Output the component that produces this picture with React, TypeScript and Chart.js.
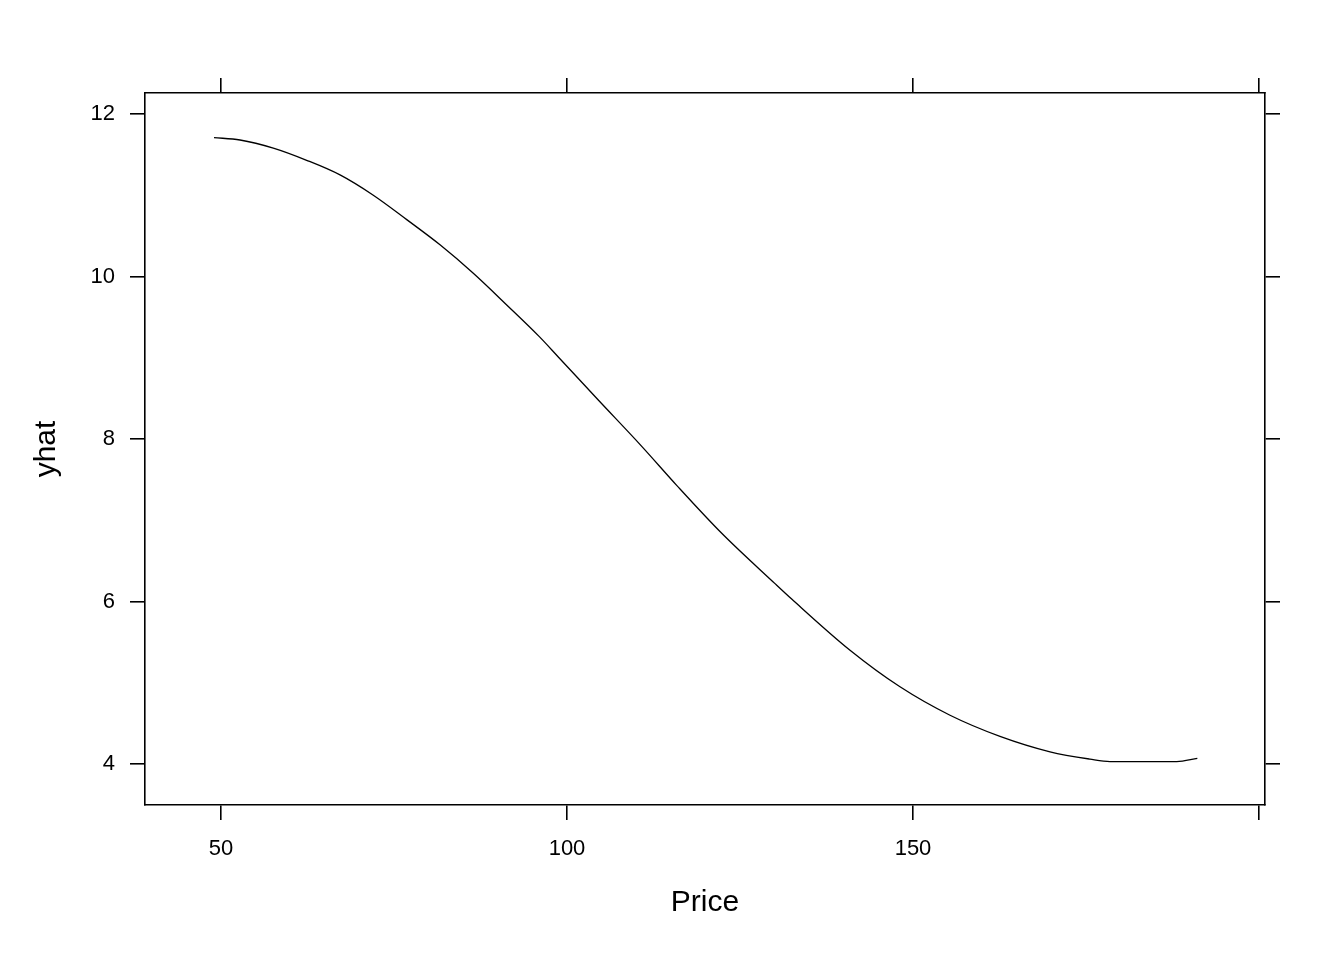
import React, { useEffect, useRef } from "react";
import { Chart, registerables } from "chart.js";

Chart.register(...registerables);

const price = [48.99, 52.75, 57.56, 62.38, 67.2, 72.01, 76.84, 81.65, 86.46, 91.29, 96.0, 98.74, 104.52, 110.8, 115.85, 122.36, 130.06, 132.47, 140.9, 148.12, 155.35, 162.57, 169.8, 175.58, 178.47, 183.3, 188.11, 191.09];
const yhat = [11.71, 11.68, 11.58, 11.43, 11.25, 11.0, 10.7, 10.39, 10.04, 9.65, 9.26, 9.01, 8.48, 7.91, 7.43, 6.84, 6.22, 6.03, 5.4, 4.95, 4.6, 4.34, 4.15, 4.06, 4.03, 4.03, 4.03, 4.07];
const xTicks = [50, 100, 150, 200];
const xTickLabels = ["50", "100", "150", ""];
const yTicks = [4, 6, 8, 10, 12];
const yTickLabels = ["4", "6", "8", "10", "12"];

const FONT = "'Liberation Sans', Arial, sans-serif";

export default function App() {
  const ref = useRef<HTMLCanvasElement | null>(null);
  useEffect(() => {
    if (!ref.current) return;
    const grid = {
      display: true,
      drawOnChartArea: false,
      drawTicks: true,
      tickLength: 15,
      color: "#000",
      lineWidth: 1.6,
    };
    const border = { display: true, color: "#000", width: 1.6 };
    const xRange = { min: 39.017, max: 200.867 };
    const yRange = { min: 3.4954, max: 12.2585 };
    const setX = (s: any) => { s.ticks = xTicks.map((v) => ({ value: v })); };
    const setY = (s: any) => { s.ticks = yTicks.map((v) => ({ value: v })); };
    const chart = new Chart(ref.current, {
      type: "line",
      data: {
        datasets: [
          {
            data: price.map((p, i) => ({ x: p, y: yhat[i] })),
            borderColor: "#000",
            borderWidth: 1.3,
            pointRadius: 0,
            fill: false,
            cubicInterpolationMode: "monotone",
            xAxisID: "x",
            yAxisID: "y",
          },
        ],
      },
      options: {
        responsive: false,
        animation: false,
        devicePixelRatio: 1,
        layout: { padding: 0 },
        plugins: { legend: { display: false }, tooltip: { enabled: false } },
        scales: {
          x: {
            type: "linear",
            position: "bottom",
            ...xRange,
            grid,
            border,
            afterBuildTicks: setX,
            afterFit: (s: any) => { s.height = 155; },
            ticks: {
              color: "#000",
              padding: 15.5,
              maxRotation: 0,
              autoSkip: false,
              font: { family: FONT, size: 22 },
              callback: (v: any) => xTickLabels[xTicks.indexOf(Number(v))] ?? "",
            },
            title: {
              display: true,
              text: "Price",
              color: "#000",
              font: { family: FONT, size: 30 },
              padding: { top: 0, bottom: 39 },
            },
          },
          x2: {
            type: "linear",
            position: "top",
            ...xRange,
            grid,
            border,
            afterBuildTicks: setX,
            afterFit: (s: any) => { s.height = 93; },
            ticks: { color: "rgba(0,0,0,0)", autoSkip: false, callback: () => "" },
          },
          y: {
            type: "linear",
            position: "left",
            ...yRange,
            grid,
            border,
            afterBuildTicks: setY,
            afterFit: (s: any) => { s.width = 145; },
            ticks: {
              color: "#000",
              padding: 15,
              autoSkip: false,
              font: { family: FONT, size: 22 },
              callback: (v: any) => yTickLabels[yTicks.indexOf(Number(v))] ?? "",
            },
            title: {
              display: true,
              text: "yhat",
              color: "#000",
              font: { family: FONT, size: 30 },
              padding: { top: 29, bottom: 0 },
            },
          },
          y2: {
            type: "linear",
            position: "right",
            ...yRange,
            grid,
            border,
            afterBuildTicks: setY,
            afterFit: (s: any) => { s.width = 79; },
            ticks: { color: "rgba(0,0,0,0)", autoSkip: false, callback: () => "" },
          },
        },
      },
    } as any);
    return () => chart.destroy();
  }, []);
  return (
    <div style={{ position: "absolute", left: 0, top: 0, width: 1344, height: 960, background: "#fff" }}>
      <canvas ref={ref} width={1344} height={960} style={{ width: 1344, height: 960, display: "block" }} />
    </div>
  );
}
